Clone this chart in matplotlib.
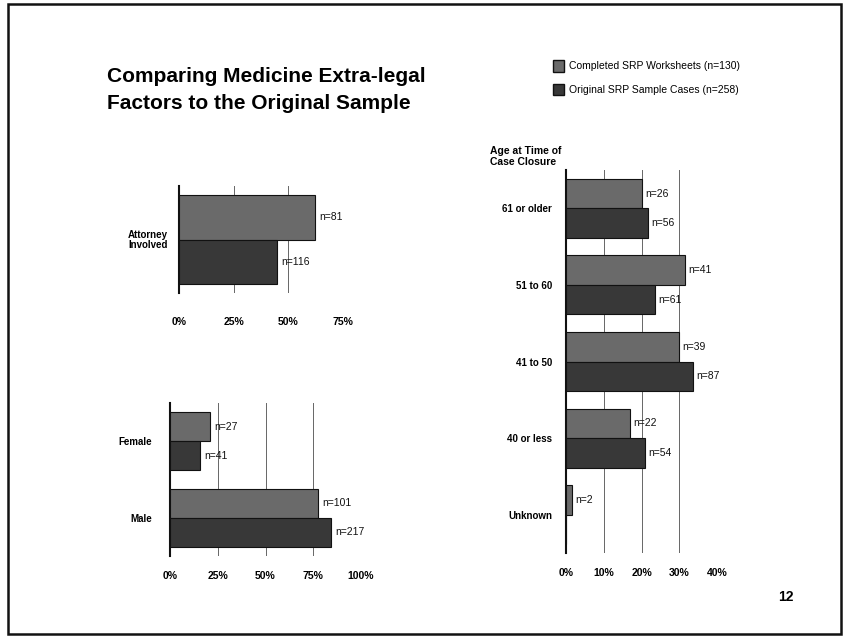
import numpy as np
import matplotlib.pyplot as plt
from matplotlib.patches import Rectangle, Patch

plt.rcParams['font.family'] = ['Liberation Sans', 'DejaVu Sans']

# totals
n_completed = 130
n_original = 258

# attorney involved
atty_cats = ['Attorney\nInvolved']
atty_completed = [81]
atty_original = [116]

# gender
sex_cats = ['Female', 'Male']
sex_completed = [27, 101]
sex_original = [41, 217]

# age at time of case closure
age_cats = ['61 or older', '51 to 60', '41 to 50', '40 or less', 'Unknown']
age_completed = [26, 41, 39, 22, 2]
age_original = [56, 61, 87, 54, 0]

c_completed = '#6a6a6a'
c_original = '#383838'


def panel(ax, cats, comp, orig, ticks, w, ylim):
    y = np.arange(len(cats))
    pc = np.array(comp) / n_completed * 100
    po = np.array(orig) / n_original * 100
    ax.barh(y - w / 2, pc, height=w, color=c_completed, edgecolor='#111111',
            linewidth=0.8, zorder=3)
    ax.barh(y + w / 2, po, height=w, color=c_original, edgecolor='#111111',
            linewidth=0.8, zorder=3)
    for yy, v, n in zip(y - w / 2, pc, comp):
        if n > 0:
            ax.text(v + 0.9 * ticks[-1] / 40, yy, 'n=%d' % n, va='center',
                    ha='left', fontsize=7.5, color='#111111', zorder=4)
    for yy, v, n in zip(y + w / 2, po, orig):
        if n > 0:
            ax.text(v + 0.9 * ticks[-1] / 40, yy, 'n=%d' % n, va='center',
                    ha='left', fontsize=7.5, color='#111111', zorder=4)
    ax.set_xlim(0, ticks[-1])
    ax.set_ylim(*ylim)
    ax.set_xticks(ticks)
    ax.set_xticklabels(['%d%%' % t for t in ticks], fontsize=7.5,
                       fontweight='bold')
    ax.set_yticks(y)
    ax.set_yticklabels(cats, fontsize=7, fontweight='bold', linespacing=1.0)
    ax.tick_params(length=0, pad=6)
    for s in ['top', 'right', 'bottom']:
        ax.spines[s].set_visible(False)
    ax.spines['left'].set_linewidth(1.5)
    ax.spines['left'].set_color('#111111')
    ax.xaxis.grid(True, color='#666666', linewidth=0.7, zorder=0)
    ax.set_axisbelow(True)


fig = plt.figure(figsize=(8.45, 6.37), dpi=100)

ax1 = fig.add_axes([179 / 845, 1 - 293 / 637, 164 / 845, 107 / 637])
panel(ax1, atty_cats, atty_completed, atty_original, [0, 25, 50, 75], 0.5,
      (0.6, -0.6))
ax1.tick_params(axis='x', pad=17)
ax1.tick_params(axis='y', pad=8)

ax2 = fig.add_axes([170 / 845, 1 - 556 / 637, 191 / 845, 153 / 637])
panel(ax2, sex_cats, sex_completed, sex_original, [0, 25, 50, 75, 100], 0.38,
      (1.5, -0.5))
ax2.tick_params(axis='x', pad=11)
ax2.tick_params(axis='y', pad=13)

ax3 = fig.add_axes([566 / 845, 1 - 553 / 637, 151 / 845, 383 / 637])
panel(ax3, age_cats, age_completed, age_original, [0, 10, 20, 30, 40], 0.385,
      (4.5, -0.5))
ax3.tick_params(axis='x', pad=11)
ax3.tick_params(axis='y', pad=10)

fig.text(490 / 845, 1 - 146 / 637, 'Age at Time of\nCase Closure', fontsize=7.5,
         fontweight='bold', ha='left', va='top', linespacing=1.1)

fig.text(107 / 845, 1 - 67 / 637,
         'Comparing Medicine Extra-legal\nFactors to the Original Sample',
         fontsize=15, fontweight='bold', ha='left', va='top', linespacing=1.55)

handles = [Patch(facecolor=c_completed, edgecolor='#111111'),
           Patch(facecolor=c_original, edgecolor='#111111')]
fig.legend(handles, ['Completed SRP Worksheets (n=130)',
                     'Original SRP Sample Cases (n=258)'],
           loc='upper left', bbox_to_anchor=(549 / 845, 1 - 56 / 637),
           frameon=False, fontsize=7.5, handlelength=1.0, handleheight=1.3,
           handletextpad=0.5, labelspacing=1.2, borderaxespad=0)

fig.text(786 / 845, 1 - 597 / 637, '12', fontsize=10, fontweight='bold',
         ha='center', va='center')

fig.patches.append(Rectangle((8 / 845, 1 - 634 / 637), 833 / 845, 630 / 637,
                             transform=fig.transFigure, fill=False,
                             edgecolor='#111111', linewidth=1.8))

fig.savefig('out.png', dpi=100)
